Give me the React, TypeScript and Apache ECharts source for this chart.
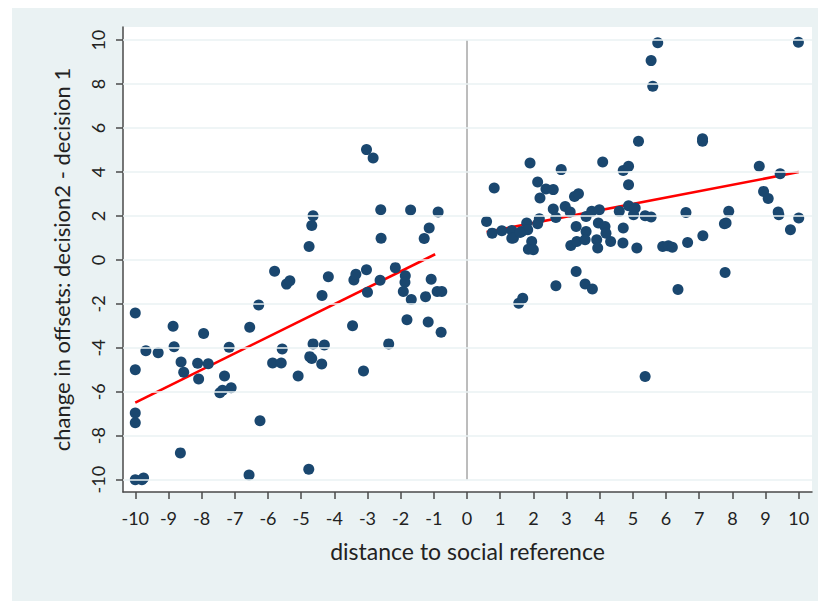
import React, { useEffect, useRef } from "react";
import * as echarts from "echarts";

// x: distance to social reference, y: change in offsets
const leftX = [-10, -9.8, -9.75, -10, -9.68, -9.31, -10, -10, -10, -8.86, -8.83, -8.62, -8.54, -8.64, -8.12, -8.09, -7.94, -7.8, -7.45, -7.37, -7.31, -7.17, -7.11, -6.55, -6.57, -6.28, -6.24, -5.8, -5.86, -5.6, -5.57, -5.44, -5.34, -5.09, -4.74, -4.68, -4.64, -4.3, -4.38, -4.76, -4.68, -4.64, -4.37, -4.18, -3.45, -3.41, -3.35, -3.12, -3.03, -2.83, -3.03, -3.0, -2.6, -2.59, -2.62, -2.36, -2.16, -1.86, -1.87, -1.92, -1.68, -1.81, -1.7, -1.29, -1.14, -0.87, -1.08, -1.25, -0.9, -0.76, -1.17, -0.78, -4.77];
const leftY = [-10, -10, -9.92, -2.41, -4.13, -4.22, -5.0, -6.97, -7.41, -3.02, -3.95, -4.64, -5.11, -8.78, -4.7, -5.42, -3.35, -4.72, -6.04, -5.93, -5.28, -3.97, -5.82, -3.06, -9.79, -2.05, -7.32, -0.51, -4.69, -4.69, -4.05, -1.1, -0.95, -5.28, -4.4, -4.48, -3.82, -3.87, -4.74, 0.61, 1.57, 2.01, -1.62, -0.77, -2.99, -0.91, -0.65, -5.05, 5.02, 4.64, -0.45, -1.47, 2.28, 0.99, -0.92, -3.82, -0.35, -0.72, -1.01, -1.44, -1.8, -2.72, 2.27, 0.98, 1.45, 2.18, -0.88, -1.67, -1.44, -1.44, -2.82, -3.29, -9.52];

const rightX = [0.59, 0.82, 0.76, 1.05, 1.35, 1.35, 1.65, 1.8, 1.9, 1.83, 1.95, 1.85, 2.0, 2.13, 2.2, 2.18, 2.13, 2.38, 2.6, 2.84, 2.6, 2.68, 2.96, 3.11, 3.24, 3.36, 3.29, 3.59, 3.76, 3.99, 3.59, 3.13, 3.31, 3.56, 3.96, 4.16, 4.19, 3.91, 3.94, 4.33, 4.71, 4.59, 4.7, 4.87, 5.02, 4.87, 4.71, 4.87, 4.09, 5.12, 5.17, 5.75, 5.55, 5.6, 9.99, 7.1, 7.1, 5.07, 5.37, 5.55, 6.6, 5.9, 6.07, 6.19, 6.65, 7.11, 7.78, 7.76, 7.81, 7.89, 8.81, 8.94, 9.08, 9.44, 9.38, 9.4, 9.75, 10.0, 3.29, 2.68, 3.56, 3.78, 1.56, 1.68, 6.36, 5.37, 1.4, 1.6];
const rightY = [1.75, 3.27, 1.22, 1.33, 1.34, 0.99, 1.29, 1.68, 4.41, 1.37, 0.84, 0.49, 0.46, 3.55, 2.82, 1.87, 1.65, 3.23, 3.2, 4.11, 2.32, 1.93, 2.43, 2.18, 2.89, 3.01, 1.52, 1.98, 2.21, 2.28, 1.29, 0.66, 0.84, 0.92, 1.68, 1.52, 1.22, 0.92, 0.54, 0.84, 1.45, 2.21, 0.77, 2.47, 2.06, 3.42, 4.07, 4.26, 4.46, 0.54, 5.4, 9.88, 9.07, 7.9, 9.91, 5.51, 5.4, 2.36, 2.01, 1.95, 2.16, 0.61, 0.64, 0.58, 0.79, 1.1, -0.57, 1.65, 1.68, 2.21, 4.26, 3.12, 2.8, 3.92, 2.18, 2.06, 1.37, 1.91, -0.53, -1.17, -1.09, -1.32, -1.97, -1.74, -1.35, -5.3, 1.0, 1.25];

// fitted lines (endpoints)
const leftFitX = [-10, -0.96];
const leftFitY = [-6.49, 0.26];
const rightFitX = [0.59, 10];
const rightFitY = [1.27, 4.0];

const zeroLineX = [0, 0];
const zeroLineY = [10, -10];

const xTicks = [-10, -9, -8, -7, -6, -5, -4, -3, -2, -1, 0, 1, 2, 3, 4, 5, 6, 7, 8, 9, 10];
const yTicks = [-10, -8, -6, -4, -2, 0, 2, 4, 6, 8, 10];

const xTitle = "distance to social reference";
const yTitle = "change in offsets: decision2 - decision 1";

const zip = (xs: number[], ys: number[]) => xs.map((x, i) => [x, ys[i]]);

export default function App() {
  const ref = useRef<HTMLDivElement>(null);
  useEffect(() => {
    if (!ref.current) return;
    const chart = echarts.init(ref.current, null, { renderer: "svg" });
    const font = "Lato";
    const textColor = "#222";
    const axisColor = "#4a4a4a";
    chart.setOption({
      animation: false,
      graphic: [
        {
          type: "rect",
          z: -10,
          silent: true,
          shape: { x: 12, y: 8, width: 806, height: 593 },
          style: { fill: "#eaf2f3" },
        },
      ],
      grid: {
        left: 123,
        top: 27,
        width: 689,
        height: 465,
        show: true,
        backgroundColor: "#ffffff",
        borderWidth: 0,
      },
      xAxis: {
        type: "value",
        min: -10.37,
        max: 10.4,
        name: xTitle,
        nameLocation: "middle",
        nameGap: 47,
        nameTextStyle: { fontFamily: font, fontSize: 23, color: textColor },
        axisLine: { show: true, onZero: false, lineStyle: { color: axisColor, width: 1.5 } },
        axisTick: { show: true, customValues: xTicks, length: 7, lineStyle: { color: axisColor, width: 1.5 } },
        axisLabel: {
          customValues: xTicks,
          formatter: (v: number) => String(v),
          fontFamily: font,
          fontSize: 18,
          color: textColor,
          margin: 17,
        },
        splitLine: { show: false },
      },
      yAxis: {
        type: "value",
        min: -10.56,
        max: 10.6,
        name: yTitle,
        nameLocation: "middle",
        nameGap: 51,
        nameRotate: 90,
        nameTextStyle: { fontFamily: font, fontSize: 22, color: textColor },
        axisLine: { show: true, onZero: false, lineStyle: { color: axisColor, width: 1.5 } },
        axisTick: { show: true, customValues: yTicks, length: 7, lineStyle: { color: axisColor, width: 1.5 } },
        axisLabel: {
          customValues: yTicks,
          formatter: (v: number) => String(v),
          rotate: 90,
          fontFamily: font,
          fontSize: 18,
          color: textColor,
          margin: 16,
        },
        splitLine: { show: false },
      },
      series: [
        {
          type: "line",
          z: 1,
          data: zip(zeroLineX, zeroLineY),
          symbol: "none",
          lineStyle: { color: "#7a7a7a", width: 1 },
          silent: true,
          markLine: {
            silent: true,
            symbol: "none",
            label: { show: false },
            lineStyle: { color: "#eaf2f3", width: 1.6, type: "solid" },
            data: yTicks.map((v) => ({ yAxis: v })),
          },
        },
        {
          type: "line",
          z: 2,
          data: zip(leftFitX, leftFitY),
          symbol: "none",
          lineStyle: { color: "#ff0000", width: 2.6 },
        },
        {
          type: "line",
          z: 2,
          data: zip(rightFitX, rightFitY),
          symbol: "none",
          lineStyle: { color: "#ff0000", width: 2.6 },
        },
        {
          type: "scatter",
          z: 3,
          data: zip(leftX, leftY),
          symbolSize: 11,
          itemStyle: { color: "#1a476f", opacity: 1 },
        },
        {
          type: "scatter",
          z: 3,
          data: zip(rightX, rightY),
          symbolSize: 11,
          itemStyle: { color: "#1a476f", opacity: 1 },
        },
      ],
    });
    return () => chart.dispose();
  }, []);
  return (
    <div
      ref={ref}
      style={{ position: "absolute", left: 0, top: 0, width: 818, height: 601 }}
    />
  );
}
